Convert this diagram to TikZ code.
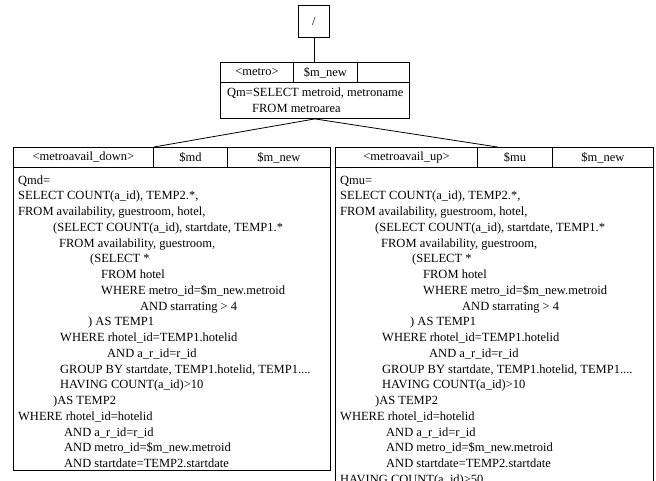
\documentclass[tikz,border=0pt]{standalone}
\usepackage{fontspec}
\setmainfont{Liberation Serif}
\usetikzlibrary{calc}
\tikzset{
  box/.style={draw, line width=0.9pt, inner sep=0pt, anchor=north west, font=\fontsize{12.5}{15}\selectfont},
  qline/.style={anchor=base west, inner sep=0pt, font=\fontsize{12.5}{15}\selectfont},
  link/.style={draw, line width=0.8pt},
}
\newcommand\twolines[3]{%
  \node[qline] (L#1) at ({13+#2},{184+(#1-1)*15.75}) {#3};
  \node[qline] (R#1) at ({335+#2},{184+(#1-1)*15.75}) {#3};}
\begin{document}
\begin{tikzpicture}[x=1pt,y=-1pt]
\clip (0,0) rectangle (656,480);
% root
\node[box, minimum width=31pt, minimum height=32pt] (root) at (298,5) {/};
% metro table
\node[box, minimum width=73pt, minimum height=20pt] (Mh1) at (220,62) {<metro>};
\node[box, minimum width=64pt, minimum height=20pt] (Mh2) at (293,62) {\$m\_new};
\node[box, minimum width=52pt, minimum height=20pt] (Mh3) at (357,62) {};
\node[box, minimum width=189pt, minimum height=36pt] (Mbody) at (220,82) {};
\node[qline] (Mq1) at (227,96) {Qm=SELECT metroid, metroname};
\node[qline] (Mq2) at (252,112) {FROM metroarea};
% left table
\node[box, minimum width=140pt, minimum height=20pt] (Lh1) at (13,147) {<metroavail\_down>};
\node[box, minimum width=74pt, minimum height=20pt] (Lh2) at (153,147) {\$md};
\node[box, minimum width=103pt, minimum height=20pt] (Lh3) at (227,147) {\$m\_new};
\node[box, minimum width=317pt, minimum height=303pt] (Lbody) at (13,167) {};
% right table
\node[box, minimum width=142pt, minimum height=20pt] (Rh1) at (335,147) {<metroavail\_up>};
\node[box, minimum width=75pt, minimum height=20pt] (Rh2) at (477,147) {\$mu};
\node[box, minimum width=101pt, minimum height=20pt] (Rh3) at (552,147) {\$m\_new};
\node[box, minimum width=318pt, minimum height=340pt] (Rbody) at (335,167) {};
% query text
\node[qline] (L1) at (18,184) {Qmd=};
\node[qline] (R1) at (340,184) {Qmu=};
\twolines{2}{5}{SELECT COUNT(a\_id), TEMP2.*,}
\twolines{3}{5}{FROM availability, guestroom, hotel,}
\twolines{4}{40}{(SELECT COUNT(a\_id), startdate, TEMP1.*}
\twolines{5}{46}{FROM availability, guestroom,}
\twolines{6}{77}{(SELECT *}
\twolines{7}{88}{FROM hotel}
\twolines{8}{88}{WHERE metro\_id=\$m\_new.metroid}
\twolines{9}{127}{AND starrating > 4}
\twolines{10}{75}{) AS TEMP1}
\twolines{11}{47}{WHERE rhotel\_id=TEMP1.hotelid}
\twolines{12}{94}{AND a\_r\_id=r\_id}
\twolines{13}{47}{GROUP BY startdate, TEMP1.hotelid, TEMP1....}
\twolines{14}{47}{HAVING COUNT(a\_id)>10}
\twolines{15}{40}{)AS TEMP2}
\twolines{16}{5}{WHERE rhotel\_id=hotelid}
\twolines{17}{51}{AND a\_r\_id=r\_id}
\twolines{18}{51}{AND metro\_id=\$m\_new.metroid}
\twolines{19}{51}{AND startdate=TEMP2.startdate}
\node[qline] (R20) at (340,{184+19*15.75}) {HAVING COUNT(a\_id)>50};
% connectors
\draw[link] (root.south) -- (root.south |- Mh1.north);
\draw[link] (Mbody.south) -- (Lh1.north east);
\draw[link] (Mbody.south) -- ($(Rh2.north west)!0.27!(Rh2.north east)$);
\end{tikzpicture}
\end{document}
